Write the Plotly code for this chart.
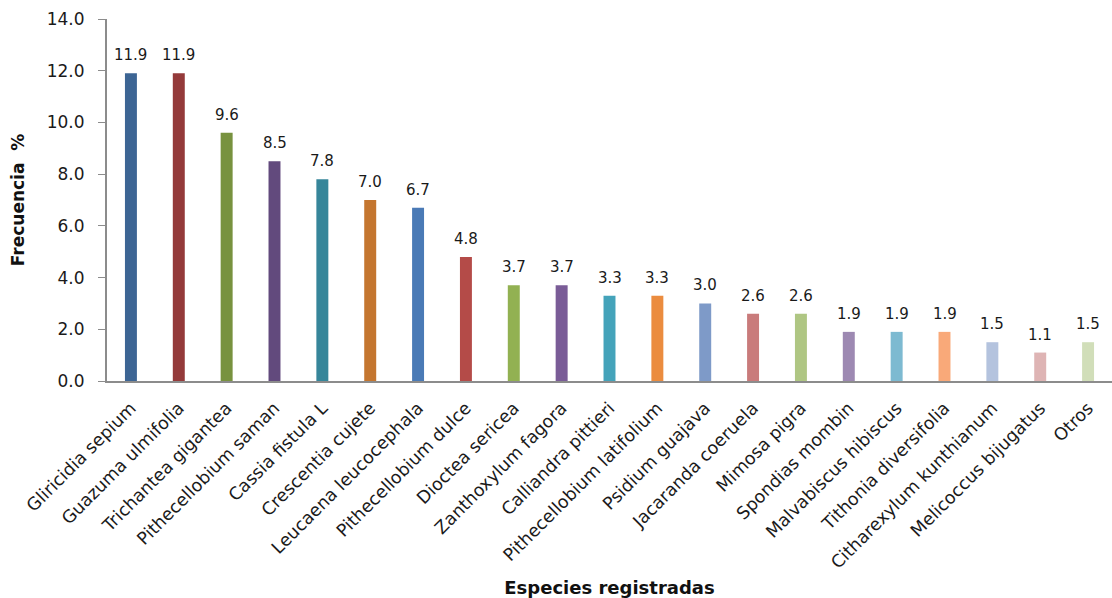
import plotly.graph_objects as go

especies = [
    "Gliricidia sepium", "Guazuma ulmifolia", "Trichantea gigantea",
    "Pithecellobium saman", "Cassia fistula L", "Crescentia cujete",
    "Leucaena leucocephala", "Pithecellobium dulce", "Dioctea sericea",
    "Zanthoxylum fagora", "Calliandra pittieri", "Pithecellobium latifolium",
    "Psidium guajava", "Jacaranda coeruela", "Mimosa pigra",
    "Spondias mombin", "Malvabiscus hibiscus", "Tithonia diversifolia",
    "Citharexylum kunthianum", "Melicoccus bijugatus", "Otros",
]
frecuencia = [11.9, 11.9, 9.6, 8.5, 7.8, 7.0, 6.7, 4.8, 3.7, 3.7, 3.3, 3.3,
              3.0, 2.6, 2.6, 1.9, 1.9, 1.9, 1.5, 1.1, 1.5]
colores = [
    "#3D6594", "#943A3A", "#78923F", "#624A7D", "#36869A", "#C4762F",
    "#4A7AB6", "#B44B48", "#92B152", "#7A5C97", "#44A3BA", "#EB8C3F",
    "#7E9AC8", "#C97B7B", "#AFC683", "#9D89B2", "#7DBAD1", "#F9A979",
    "#B4C3DE", "#DEB4B4", "#D1DEB9",
]
y_ticks = [0, 2, 4, 6, 8, 10, 12, 14]

FONT = "DejaVu Sans"

fig = go.Figure(
    go.Bar(
        x=especies,
        y=frecuencia,
        marker=dict(color=colores, line=dict(width=0)),
        cliponaxis=False,
    )
)

# value labels above each bar
for esp, val in zip(especies, frecuencia):
    fig.add_annotation(
        x=esp, y=val, text=f"{val:.1f}",
        showarrow=False, yanchor="bottom", yshift=7,
        font=dict(family=FONT, size=15, color="#1a1a1a"),
    )

fig.update_layout(
    width=1112,
    height=598,
    margin=dict(l=107, r=0, t=19, b=217),
    paper_bgcolor="white",
    plot_bgcolor="white",
    bargap=0.75,
    showlegend=False,
    font=dict(family=FONT, color="#1a1a1a"),
    xaxis=dict(
        tickangle=-45,
        tickfont=dict(size=17.5, color="#1a1a1a"),
        ticklabelstandoff=8,
        showline=True,
        linecolor="#8c8c8c",
        linewidth=2,
        ticks="",
        showgrid=False,
        title=dict(
            text="<b>Especies registradas</b>",
            font=dict(size=18, color="#111"),
            standoff=14,
        ),
    ),
    yaxis=dict(
        range=[0, 14],
        tickvals=y_ticks,
        tickformat=".1f",
        tickfont=dict(size=17, color="#1a1a1a"),
        ticklabelstandoff=10,
        showline=True,
        linecolor="#8c8c8c",
        linewidth=2,
        ticks="outside",
        ticklen=7,
        tickcolor="#8c8c8c",
        showgrid=False,
        zeroline=False,
        title=dict(
            text="<b>Frecuencia  %</b>",
            font=dict(size=17, color="#111"),
            standoff=18,
        ),
    ),
)

fig.write_html("out.html")
